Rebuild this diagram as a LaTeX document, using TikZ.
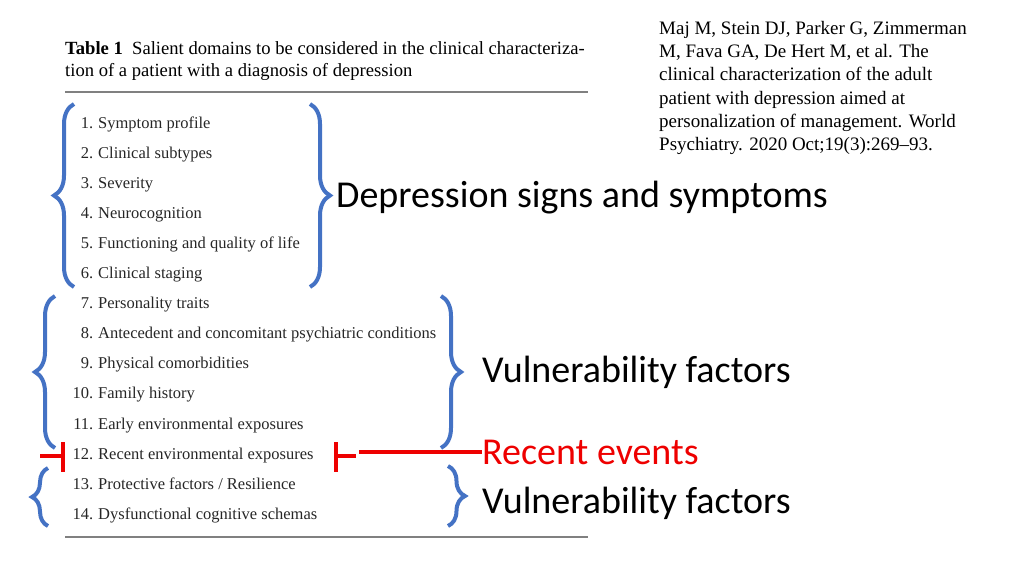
\documentclass[tikz,border=0pt]{standalone}
\usepackage{fontspec}
\setmainfont{Liberation Serif}
\newfontfamily\lab{Carlito}
\usetikzlibrary{decorations.pathreplacing}
\definecolor{bbl}{RGB}{68,114,196}
\definecolor{rd}{RGB}{238,0,0}
\begin{document}
\begin{tikzpicture}[x=1pt,y=-1pt,
  item/.style={anchor=base west,inner sep=0,font=\fontsize{16.5}{18}\selectfont,text=black!85},
  num/.style={anchor=base east,inner sep=0,font=\fontsize{16.5}{18}\selectfont,text=black!85},
  big/.style={anchor=west,inner sep=0,font=\lab\fontsize{38}{42}\selectfont},
  br/.style={draw=bbl,line width=4pt,decorate,decoration={brace,amplitude=#1}},
  rule/.style={draw=black!50,line width=1.5pt}]
\useasboundingbox (0,0) rectangle (1024,576);
\node[anchor=base west,inner sep=0,font=\fontsize{18.6}{20}\selectfont] (cap1) at (65,54) {\textbf{Table 1}\ \ Salient domains to be considered in the clinical characteriza-};
\node[anchor=base west,inner sep=0,font=\fontsize{18.6}{20}\selectfont] (cap2) at (65,76) {tion of a patient with a diagnosis of depression};
\coordinate (r1a) at (65,92); \coordinate (r1b) at (588,92);
\draw[rule] (r1a) -- (r1b);
\coordinate (r2a) at (65,537); \coordinate (r2b) at (588,537);
\draw[rule] (r2a) -- (r2b);
\foreach \n/\t [count=\i] in {1/Symptom profile,2/Clinical subtypes,3/Severity,4/Neurocognition,5/Functioning and quality of life,6/Clinical staging,7/Personality traits,8/Antecedent and concomitant psychiatric conditions,9/Physical comorbidities,10/Family history,11/Early environmental exposures,12/Recent environmental exposures,13/{Protective factors / Resilience},14/Dysfunctional cognitive schemas}{
  \node[num] (n\i) at (93.5,{128+30.1*(\i-1)}) {\n.};
  \node[item] (t\i) at (98,{128+30.1*(\i-1)}) {\t};
}
\node[anchor=north west,align=left,inner sep=0,font=\fontsize{19}{23.3}\selectfont] (ref) at (659,21) {Maj M, Stein DJ, Parker G, Zimmerman\\M, Fava GA, De Hert M, et al. The\\clinical characterization of the adult\\patient with depression aimed at\\personalization of management. World\\Psychiatry. 2020 Oct;19(3):269--93.};
% blue braces
\coordinate (a1) at (74,104); \coordinate (a2) at (74,287);
\draw[br=20pt] (a2) -- (a1);
\coordinate (b1) at (310,104); \coordinate (b2) at (310,287);
\draw[br=20pt] (b1) -- (b2);
\coordinate (c1) at (55,296); \coordinate (c2) at (55,448);
\draw[br=20pt] (c2) -- (c1);
\coordinate (d1) at (441,296); \coordinate (d2) at (441,448);
\draw[br=20pt] (d1) -- (d2);
\coordinate (e1) at (48,468); \coordinate (e2) at (48,526);
\draw[br=16pt] (e2) -- (e1);
\coordinate (f1) at (448,466); \coordinate (f2) at (448,526);
\draw[br=17pt] (f1) -- (f2);
\node[big] (l1) at (336,198) {Depression signs and symptoms};
\node[big] (l2) at (482,372) {Vulnerability factors};
\node[big,text=rd] (l3) at (482,452) {Recent events};
\node[big] (l4) at (482,503) {Vulnerability factors};
% red brackets
\coordinate (p1) at (63,442); \coordinate (p2) at (63,472); \coordinate (p3) at (40,456); \coordinate (p4) at (63,456);
\draw[rd,line width=4pt] (p1) -- (p2) (p3) -- (p4);
\coordinate (q1) at (336,442); \coordinate (q2) at (336,472); \coordinate (q3) at (336,456); \coordinate (q4) at (356,456);
\draw[rd,line width=4pt] (q1) -- (q2) (q3) -- (q4);
\coordinate (s1) at (359,452);
\draw[rd,line width=4pt] (s1) -- (l3.west);
\end{tikzpicture}
\end{document}
